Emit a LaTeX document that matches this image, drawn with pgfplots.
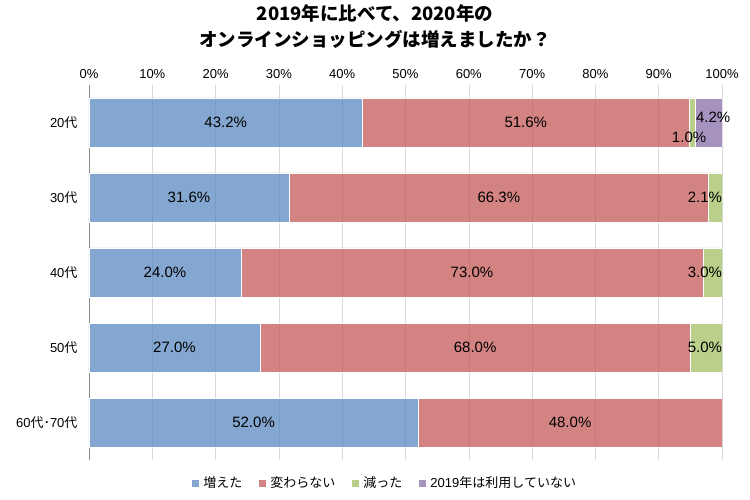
\documentclass[border=0pt]{standalone}
\usepackage{fontspec}
\setmainfont{Liberation Sans}
\newfontfamily\cjk{Noto Sans CJK JP}
\usepackage{pgfplots}
\pgfplotsset{compat=1.18}
\definecolor{cB}{HTML}{4F81BD}
\definecolor{cR}{HTML}{C0504D}
\definecolor{cG}{HTML}{9BBB59}
\definecolor{cP}{HTML}{8064A2}
\begin{document}
\begin{tikzpicture}
\useasboundingbox (-89pt,-40pt) rectangle (661pt,460pt);
\node[font=\cjk\bfseries\fontsize{18.5}{26}\selectfont, align=center] at (286pt,433pt)
  {2019年に比べて、2020年の\\オンラインショッピングは増えましたか？};
\begin{axis}[
  at={(0pt,0pt)}, anchor=south west,
  scale only axis, width=633pt, height=375pt,
  xbar stacked, bar width=49pt,
  xmin=0, xmax=100, ymin=-0.5, ymax=4.5, y dir=reverse,
  axis x line*=top, axis y line*=left,
  axis line style={-},
  x axis line style={draw=none},
  y axis line style={draw=black!45},
  major tick length=0pt,
  /pgf/number format/assume math mode=true,
  xtick={0,10,...,100},
  xticklabels={0\%,10\%,20\%,30\%,40\%,50\%,60\%,70\%,80\%,90\%,100\%},
  xticklabel style={font=\fontsize{13}{13}\selectfont, yshift=3pt},
  ytick={0,1,2,3,4},
  yticklabels={20{\cjk 代}, 30{\cjk 代}, 40{\cjk 代}, 50{\cjk 代}, 60{\cjk 代･}70{\cjk 代}},
  yticklabel style={font=\fontsize{13}{13}\selectfont, xshift=-8pt},
  xmajorgrids, grid style={draw=black!15, line width=0.6pt},
  legend columns=4,
  legend style={draw=none, at={(0.468,0)}, anchor=center, yshift=-23pt,
    font=\cjk\fontsize{13}{13}\selectfont,
    /tikz/every even column/.append style={column sep=15pt},
    /tikz/every odd column/.append style={column sep=2pt}},
  legend image code/.code={\fill[#1, draw=none] (0pt,-3.5pt) rectangle (7pt,3.5pt);},
]
\addplot[fill=cB, fill opacity=0.7, draw=white, line width=0.6pt]
  coordinates {(43.2,0) (31.6,1) (24.0,2) (27.0,3) (52.0,4)};
\addplot[fill=cR, fill opacity=0.7, draw=white, line width=0.6pt]
  coordinates {(51.6,0) (66.3,1) (73.0,2) (68.0,3) (48.0,4)};
\addplot[fill=cG, fill opacity=0.7, draw=white, line width=0.6pt]
  coordinates {(1.0,0) (2.1,1) (3.0,2) (5.0,3) (0,4)};
\addplot[fill=cP, fill opacity=0.7, draw=white, line width=0.6pt]
  coordinates {(4.2,0) (0,1) (0,2) (0,3) (0,4)};
\legend{増えた, 変わらない, 減った, {\setmainfont{Liberation Sans}2019}年は利用していない}
\end{axis}
\begin{axis}[
  at={(0pt,0pt)}, anchor=south west,
  scale only axis, width=633pt, height=375pt,
  xmin=0, xmax=100, ymin=-0.5, ymax=4.5, y dir=reverse,
  hide axis,
]
\addplot[only marks, mark=none, nodes near coords, point meta=explicit symbolic,
  every node near coord/.style={anchor=center, font=\fontsize{15}{15}\selectfont, text=black}]
  coordinates {
    (21.6,0) [43.2\%] (69.0,0) [51.6\%] (94.8,0.2) [1.0\%] (98.6,-0.07) [4.2\%]
    (15.8,1) [31.6\%] (64.75,1) [66.3\%] (97.3,1) [2.1\%]
    (12.0,2) [24.0\%] (60.5,2) [73.0\%] (97.3,2) [3.0\%]
    (13.5,3) [27.0\%] (61.0,3) [68.0\%] (97.3,3) [5.0\%]
    (26.0,4) [52.0\%] (76.0,4) [48.0\%]
  };
\end{axis}
\end{tikzpicture}
\end{document}
